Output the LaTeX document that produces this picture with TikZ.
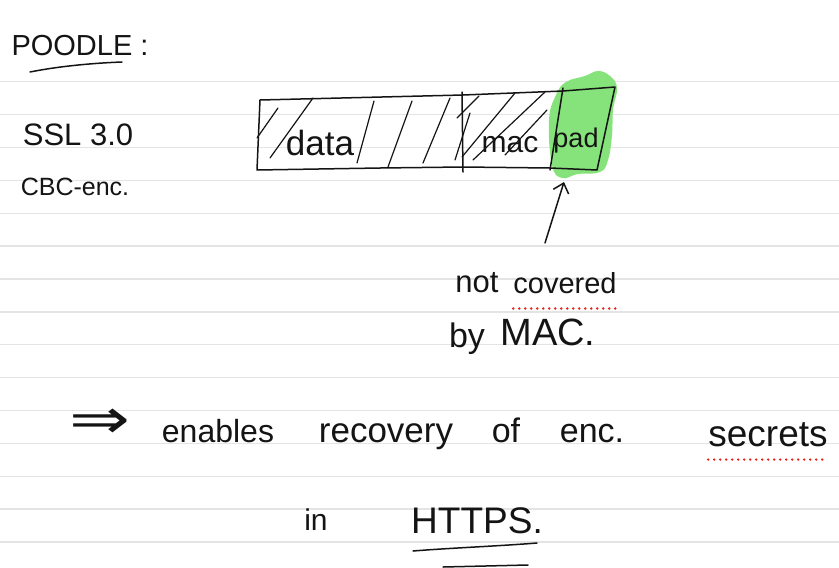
\documentclass[tikz,border=0pt]{standalone}
\usepackage{fontspec}
\setmainfont{Liberation Sans}
\newfontfamily\symfont{DejaVu Sans}
\usetikzlibrary{arrows.meta,calc}
\definecolor{nInk}{HTML}{141414}
\definecolor{nRule}{HTML}{E3E4E3}
\definecolor{nMark}{HTML}{86E27A}
\definecolor{nSpell}{HTML}{E8231C}

\begin{document}
\begin{tikzpicture}[
  x=1pt, y=-1pt,
  pen/.style={draw=nInk, line width=1.5pt, line cap=round, line join=round},
  hatch/.style={pen, line width=1.2pt},
  rule/.style={draw=nRule, line width=1.4pt},
  hand/.style={font=\fontsize{#1}{#1}\selectfont, text=nInk, inner sep=0pt, anchor=base},
  spell/.style={draw=nSpell, line width=2.7pt, line cap=round, dash pattern=on 0pt off 6pt},
]
\fill[white] (0,0) rectangle (839,568);
\useasboundingbox (0,0) rectangle (839,568);

% ruled paper
\foreach \k in {0,...,14}
  \draw[rule] (0,{81.7+32.88*\k}) -- (839,{81.7+32.88*\k});

% title block, left margin
\node[hand=29] (title) at (80,55) {POODLE :};
\draw[pen] (30,72) .. controls (60,66) and (95,63) .. (122,62);
\node[hand=31] (ssl) at (78,145) {SSL 3.0};
\node[hand=25] (cbc) at (75,195) {CBC-enc.};

% highlight behind the padding cell
\fill[nMark] plot[smooth cycle, tension=0.7] coordinates {
  (552,165) (549,120) (556,95) (566,82) (585,76) (598,71) (610,76) (617,88)
  (613,110) (612,135) (608,160) (600,172) (578,174) (562,178)};

% record: data | mac | pad
\draw[pen] (260,100) -- (463,95) -- (563,91) -- (615,87) -- (597,170)
  -- (550,168) -- (463,167) -- (380,168) -- (257,170) -- cycle;
\draw[pen] (462,92) -- (463,172);
\draw[pen] (563,88) -- (550,170);

% hatching over data and mac
\foreach \a/\b/\c/\d in {257/138/278/108, 270/158/313/98, 357/163/374/101,
    388/167/412/101, 423/163/450/98, 455/160/470/113, 457/118/479/96,
    462/157/515/93, 473/160/545/92, 505/155/547/110}
  \draw[hatch] (\a,\b) -- (\c,\d);

\node[hand=35] (data) at (320,155) {data};
\node[hand=30] (mac) at (510,152) {mac};
\node[hand=27] (pad) at (576,147) {pad};

% note under the record
\node[hand=31] (not) at (477,292) {not};
\node[hand=29] (covered) at (565,293) {covered};
\node[hand=34] (by) at (467,347) {by};
\node[hand=38] (mactag) at (548,345) {MAC.};
\draw[spell] ([yshift=-15pt]covered.south west) -- ([yshift=-15pt]covered.south east);

\coordinate (arrfoot) at (545,243);
\coordinate (arrtip) at (564,182);
\draw[pen, -{Straight Barb[length=9pt, width=16pt, line width=1.5pt]}] (arrfoot) -- (arrtip);

% consequence
\node[font=\symfont\fontsize{56}{56}\selectfont, text=nInk, inner sep=0pt] (implies) at (100,424)
  {\scalebox{1.3}[1]{⇒}};
\node[hand=32] (enables) at (218,442) {enables};
\node[hand=35] (recovery) at (386,442) {recovery};
\node[hand=34] (of) at (506,442) {of};
\node[hand=34] (enc) at (592,442) {enc.};
\node[hand=37] (secrets) at (768,446) {secrets};
\draw[spell] ([yshift=-13pt]secrets.south west) -- ([yshift=-13pt]secrets.south east);

\node[hand=30] (in) at (316,530) {in};
\node[hand=37] (https) at (477,533) {HTTPS.};
\draw[pen] (413,551) .. controls (450,548) and (500,546) .. (537,543);
\draw[pen] (443,567) -- (528,565);

\end{tikzpicture}
\end{document}
